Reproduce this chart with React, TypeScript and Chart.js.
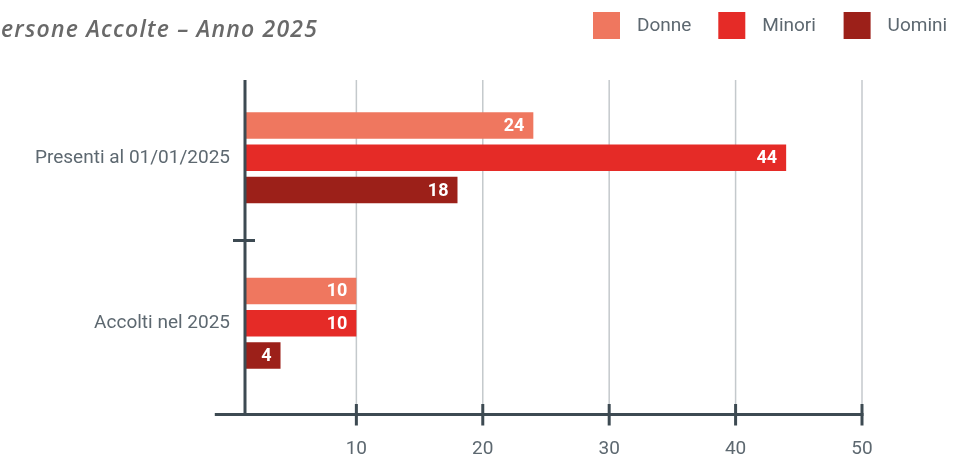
import React, { useEffect, useRef } from 'react';
import { Chart, registerables } from 'chart.js';

Chart.register(...registerables);

// ---- Data ----
const TITLE = 'Persone Accolte – Anno 2025';
const categories = ['Presenti al 01/01/2025', 'Accolti nel 2025'];
const seriesNames = ['Donne', 'Minori', 'Uomini'];
const donne = [24, 10];
const minori = [44, 10];
const uomini = [18, 4];
const xTickValues = [10, 20, 30, 40, 50];

// ---- Style ----
const seriesColors = ['#EF775F', '#E52B27', '#9C2019'];
const AXIS_COLOR = '#3d4a52';
const GRID_COLOR = '#c4c9cc';
const TEXT_COLOR = '#5d6870';
const TITLE_COLOR = '#696969';
const FONT = 'Roboto';
const X_MIN = 1.19;
const X_MAX = 50;
const X_AXIS_START = -1.2;

const decorPlugin = {
  id: 'decor',
  beforeDatasetsDraw(chart: any) {
    const { ctx, chartArea, scales } = chart;
    const x = scales.x;
    const gTop = chartArea.top + 5;
    const axisY = chartArea.bottom + 8.5;
    ctx.save();
    ctx.strokeStyle = GRID_COLOR;
    ctx.lineWidth = 1.5;
    xTickValues.forEach((v) => {
      const px = x.getPixelForValue(v);
      ctx.beginPath();
      ctx.moveTo(px, gTop);
      ctx.lineTo(px, axisY);
      ctx.stroke();
    });
    ctx.restore();
  },
  afterDatasetsDraw(chart: any) {
    const { ctx, chartArea, scales } = chart;
    const x = scales.x;
    const y = scales.y;
    const gTop = chartArea.top + 5;
    const axisY = chartArea.bottom + 8.5;
    const axisX = x.getPixelForValue(X_MIN);
    ctx.save();
    ctx.strokeStyle = AXIS_COLOR;
    ctx.lineWidth = 3;
    ctx.lineCap = 'butt';
    // y axis
    ctx.beginPath();
    ctx.moveTo(axisX, gTop);
    ctx.lineTo(axisX, axisY);
    ctx.stroke();
    // x axis
    ctx.beginPath();
    ctx.moveTo(x.getPixelForValue(X_AXIS_START), axisY);
    ctx.lineTo(x.getPixelForValue(X_MAX) + 1.5, axisY);
    ctx.stroke();
    // x tick marks
    xTickValues.forEach((v) => {
      const px = x.getPixelForValue(v);
      ctx.beginPath();
      ctx.moveTo(px, axisY - 10.5);
      ctx.lineTo(px, axisY + 11);
      ctx.stroke();
    });
    // y tick between categories
    for (let i = 0; i < categories.length - 1; i++) {
      const py = (y.getPixelForValue(i) + y.getPixelForValue(i + 1)) / 2;
      ctx.beginPath();
      ctx.moveTo(axisX - 12, py);
      ctx.lineTo(axisX + 10, py);
      ctx.stroke();
    }
    // data labels
    ctx.fillStyle = '#ffffff';
    ctx.font = `bold 18px ${FONT}`;
    ctx.textAlign = 'right';
    ctx.textBaseline = 'middle';
    chart.data.datasets.forEach((ds: any, i: number) => {
      const meta = chart.getDatasetMeta(i);
      meta.data.forEach((bar: any, j: number) => {
        ctx.fillText(String(ds.data[j]), bar.x - 9, bar.y + 1);
      });
    });
    ctx.restore();
  },
  afterDraw(chart: any) {
    const { ctx } = chart;
    ctx.save();
    // title (cut at the left edge)
    ctx.font = `italic 600 23px "Open Sans"`;
    (ctx as any).letterSpacing = '1.2px';
    ctx.fillStyle = TITLE_COLOR;
    ctx.textAlign = 'left';
    ctx.textBaseline = 'alphabetic';
    const wP = ctx.measureText('P').width;
    ctx.fillText(TITLE, -wP + 1, 37);
    (ctx as any).letterSpacing = '0px';
    // legend
    ctx.font = `19px ${FONT}`;
    ctx.textBaseline = 'middle';
    const startX = 593;
    const slot = 125.3;
    chart.data.datasets.forEach((ds: any, i: number) => {
      const bx = startX + i * slot;
      ctx.fillStyle = ds.backgroundColor;
      ctx.fillRect(bx, 12, 27, 27);
      ctx.fillStyle = TEXT_COLOR;
      ctx.fillText(ds.label, bx + 44, 26);
    });
    ctx.restore();
  },
};

export default function App() {
  const canvasRef = useRef<HTMLCanvasElement | null>(null);

  useEffect(() => {
    if (!canvasRef.current) return;
    const seriesData = [donne, minori, uomini];
    const chart = new Chart(canvasRef.current, {
      type: 'bar',
      data: {
        labels: categories,
        datasets: seriesNames.map((name, i) => ({
          label: name,
          data: seriesData[i],
          backgroundColor: seriesColors[i],
          borderWidth: 0,
          barPercentage: 0.82,
          categoryPercentage: 0.5855,
          base: X_MIN,
          clip: 0,
        })),
      },
      options: {
        indexAxis: 'y',
        responsive: false,
        maintainAspectRatio: false,
        devicePixelRatio: 1,
        animation: false,
        layout: { padding: { top: 75, right: 108, bottom: 0, left: 0 } },
        plugins: {
          legend: { display: false },
          tooltip: { enabled: false },
          title: { display: false },
        },
        scales: {
          x: {
            type: 'linear',
            min: X_MIN,
            max: X_MAX,
            afterBuildTicks: (scale: any) => {
              scale.ticks = xTickValues.map((v) => ({ value: v }));
            },
            afterFit: (scale: any) => {
              scale.height = 56;
            },
            grid: { display: false, drawTicks: false },
            border: { display: false },
            ticks: {
              font: { family: FONT, size: 19 },
              color: TEXT_COLOR,
              padding: 32,
              maxRotation: 0,
              autoSkip: false,
            },
          },
          y: {
            type: 'category',
            offset: true,
            afterFit: (scale: any) => {
              scale.width = 245;
            },
            grid: { display: false, drawTicks: false },
            border: { display: false },
            ticks: {
              font: { family: FONT, size: 19 },
              color: TEXT_COLOR,
              padding: 15,
            },
          },
        },
      },
      plugins: [decorPlugin],
    } as any);
    return () => chart.destroy();
  }, []);

  return (
    <div style={{ position: 'fixed', left: 0, top: 0, width: 970, height: 462, background: '#ffffff' }}>
      <canvas ref={canvasRef} width={970} height={462} style={{ display: 'block' }} />
    </div>
  );
}
